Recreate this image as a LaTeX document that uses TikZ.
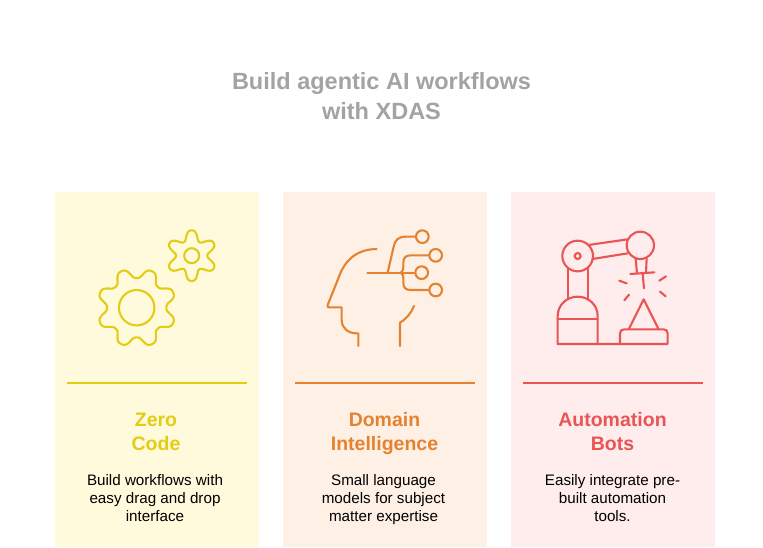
\documentclass[tikz,border=0pt]{standalone}
\usepackage{fontspec}
\setmainfont{Liberation Sans}
\definecolor{ybg}{HTML}{FFFADB}\definecolor{yln}{HTML}{E3CC14}
\definecolor{obg}{HTML}{FFF0E5}\definecolor{oln}{HTML}{E5822F}
\definecolor{rbg}{HTML}{FFECEC}\definecolor{rln}{HTML}{EA5455}
\definecolor{ttl}{HTML}{A3A3A3}
\tikzset{
 panel/.style={fill=#1,draw=none},
 rulel/.style={draw=#1,line width=1.6pt},
 icon/.style={draw=#1,line width=2.1pt,line join=round,line cap=round},
 titletext/.style={text=ttl,font=\bfseries\fontsize{23.5}{30}\selectfont,align=center},
 headtext/.style={text=#1,font=\bfseries\fontsize{19.5}{24}\selectfont,align=center},
 bodytext/.style={text=black,font=\fontsize{15.2}{18}\selectfont,align=center},
 zoomed/.style={x=0.33333pt,y=-0.33333pt}
}
\begin{document}
\begin{tikzpicture}[x=1pt,y=-1pt]
\useasboundingbox (0,0) rectangle (763,547);
\fill[white] (0,0) rectangle (763,547);
\node[titletext] (title) at (381.5,98.5) {\strut Build agentic AI workflows\\with XDAS\strut};
\path[panel=ybg] (55,192) rectangle (259,547);
\path[panel=obg] (283,192) rectangle (487,547);
\path[panel=rbg] (511,192) rectangle (715,547);
\draw[rulel=yln] (67,383) -- (247,383);
\draw[rulel=oln] (295,383) -- (475,383);
\draw[rulel=rln] (523,383) -- (703,383);
\node[headtext=yln] (h1) at (156,434) {\strut Zero\\Code\strut};
\node[headtext=oln] (h2) at (384.5,434) {\strut Domain\\Intelligence\strut};
\node[headtext=rln] (h3) at (612.5,434) {\strut Automation\\Bots\strut};
\node[bodytext] (b1) at (155,500) {\strut Build workflows with\\easy drag and drop\\interface\strut};
\node[bodytext] (b2) at (383.5,500) {\strut Small language\\models for subject\\matter expertise\strut};
\node[bodytext] (b3) at (612.5,500) {\strut Easily integrate pre-\\built automation\\tools.\strut};
% gears
\draw[icon=yln,smooth,samples=193,domain=0:360,variable=\t]
  plot ({136.7+(34.6-5.4*cos(8*\t)+0.5*cos(24*\t))*cos(\t)},{307.7-(34.6-5.4*cos(8*\t)+0.5*cos(24*\t))*sin(\t)}) -- cycle;
\draw[icon=yln] (136.7,307.7) circle [radius=17.7];
\draw[icon=yln,smooth,samples=145,domain=0:360,variable=\t]
  plot ({191.7+(20.5-5.2*cos(6*\t)+0.3*cos(18*\t))*cos(\t)},{255.7-(20.5-5.2*cos(6*\t)+0.3*cos(18*\t))*sin(\t)}) -- cycle;
\draw[icon=yln] (191.7,255.7) circle [radius=7.5];
% head
\begin{scope}[shift={(315,220)},zoomed]
\draw[icon=oln] (185,87) .. controls (125,88) and (90,120) .. (72,170) -- (38,255) .. controls (36,260) and (38,262) .. (43,262) -- (80,262) -- (80,300) .. controls (80,325) and (100,340) .. (125,340) -- (130,340) -- (130,378);
\draw[icon=oln] (255,378) -- (255,308) .. controls (275,295) and (288,280) .. (297,258);
\draw[icon=oln] (157,158) -- (298,158);
\draw[icon=oln] (218,158) -- (236,80) .. controls (240,60) and (250,50) .. (272,50) -- (302,50);
\draw[icon=oln] (258,158) .. controls (264,153) and (265,148) .. (265,140) -- (265,128) .. controls (265,113) and (272,106) .. (287,106) -- (342,106);
\draw[icon=oln] (258,158) .. controls (264,163) and (265,168) .. (265,176) -- (265,188) .. controls (265,203) and (272,210) .. (287,210) -- (342,210);
\draw[icon=oln] (320,158) circle [radius=19];
\draw[icon=oln] (322,50) circle [radius=19];
\draw[icon=oln] (362,106) circle [radius=19];
\draw[icon=oln] (362,210) circle [radius=19];
\end{scope}
% robot
\begin{scope}[shift={(545,220)},zoomed]
\draw[icon=rln] (38,372) -- (368,372) -- (368,340) .. controls (368,332) and (363,328) .. (355,328) -- (238,328) .. controls (230,328) and (225,332) .. (225,340) -- (225,372);
\draw[icon=rln] (38,372) -- (38,288) .. controls (38,255) and (65,230) .. (98,230) .. controls (131,230) and (158,255) .. (158,288) -- (158,372);
\draw[icon=rln] (38,296) -- (158,296);
\draw[icon=rln] (68,146) -- (68,236);
\draw[icon=rln] (128,146) -- (128,236);
\draw[icon=rln] (98,108) circle [radius=46];
\draw[icon=rln] (98,108) circle [radius=9];
\draw[icon=rln] (130,75) -- (248,58);
\draw[icon=rln] (142,117) -- (248,100);
\draw[icon=rln] (286,76) circle [radius=41];
\draw[icon=rln] (272,117) -- (276,160);
\draw[icon=rln] (305,115) -- (303,158);
\draw[icon=rln] (256,162) -- (328,157);
\draw[icon=rln] (293,162) -- (297,205);
\draw[icon=rln] (223,182) -- (245,190);
\draw[icon=rln] (343,182) -- (363,169);
\draw[icon=rln] (345,215) -- (362,229);
\draw[icon=rln] (238,241) -- (252,224);
\draw[icon=rln] (252,326) -- (296,238) -- (340,326);
\end{scope}
\end{tikzpicture}
\end{document}
